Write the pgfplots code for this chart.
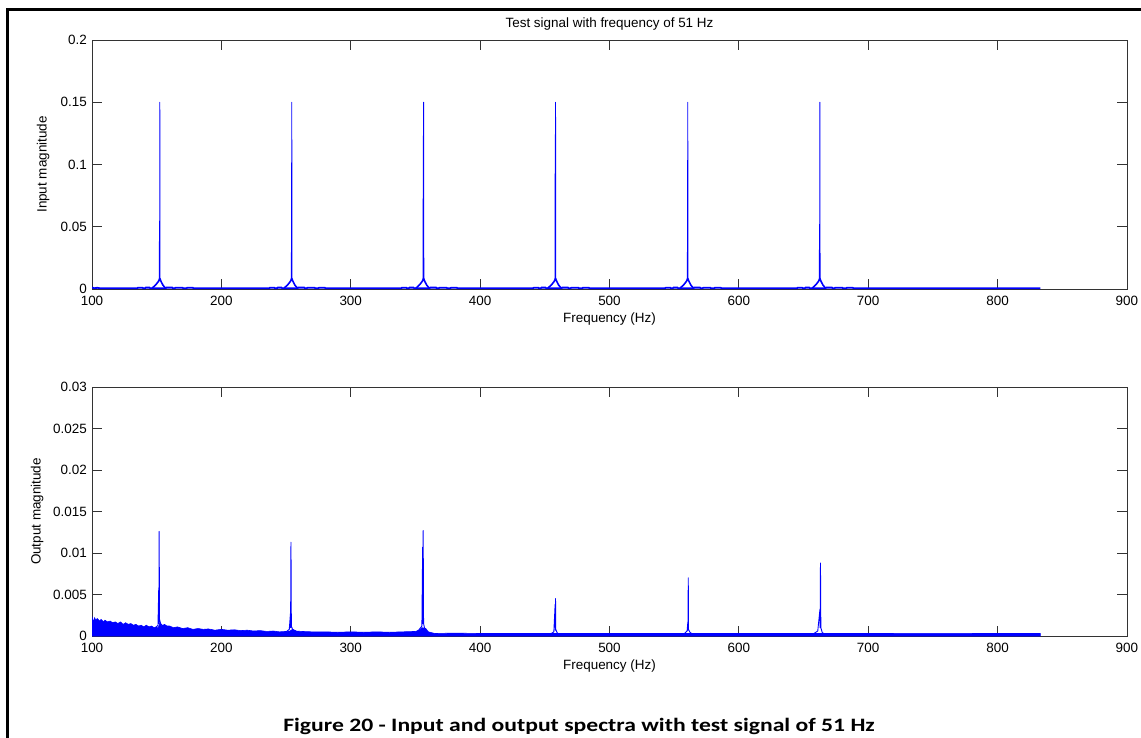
\documentclass[border=0pt]{standalone}
\usepackage{fontspec}
\setmainfont{Liberation Sans}
\newfontfamily\capfont{Carlito}
\usepackage{graphicx}
\usepackage{pgfplots}
\pgfplotsset{compat=1.18}
\definecolor{mblue}{RGB}{0,0,255}
\newcommand{\mfont}{\fontsize{13.5}{15}\selectfont}
\pgfplotsset{
  mstyle/.style={
    width=1035bp, height=249bp, scale only axis,
    xmin=100, xmax=900, xtick={100,200,...,900},
    /pgf/number format/assume math mode=true,
    scaled y ticks=false,
    tick align=inside, major tick length=10bp,
    axis line style={black!80, line width=0.8bp},
    every tick/.style={black!80, line width=0.8bp},
    xticklabel style={font=\mfont, anchor=north, inner sep=0pt, yshift=-7bp},
    yticklabel style={font=\mfont, anchor=east, inner sep=0pt, xshift=-5bp},
    xlabel={Frequency (Hz)},
    xlabel style={font=\mfont, at={(axis description cs:0.5,-0.1205)}, anchor=center, inner sep=0pt},
    unbounded coords=jump,
  }
}
\begin{document}
\begin{tikzpicture}
\path[use as bounding box] (0,0) rectangle (1141bp,-738bp);
\draw[line width=3bp] (7bp,-738bp) -- (7bp,-9bp) -- (1141bp,-9bp);
\node[font=\mfont] at (609.5bp,-24bp) {Test signal with frequency of 51 Hz};

% ---------------- top panel ----------------
\begin{axis}[mstyle, anchor=north west, at={(92bp,-40bp)},
  ymin=0, ymax=0.2, ytick={0,0.05,0.1,0.15,0.2},
  yticklabels={0,0.05,0.1,0.15,0.2},
  ylabel={Input magnitude},
  ylabel style={font=\mfont, at={(axis description cs:-0.0473,0.5)}, anchor=center, inner sep=0pt},
]
% baseline with small raised dashes near the harmonics
\addplot[draw=mblue, line width=1.8bp] coordinates {
(100,0.0012)(102,0.0006)(104,0.0010)(106,0.0006)
(135,0.0006)(135.5,0.0010)(139,0.0010)(139.5,0.0006)(141,0.0006)(141.5,0.0011)(144.5,0.0011)(145,0.0006)
(157,0.0006)(157.5,0.0011)(162,0.0011)(162.5,0.0006)(164,0.0006)(164.5,0.0010)(170,0.0010)(170.5,0.0006)(173,0.0006)(173.5,0.0010)(178,0.0010)(178.5,0.0006)
(237,0.0006)(237.5,0.0010)(241,0.0010)(241.5,0.0006)(243,0.0006)(243.5,0.0011)(246.5,0.0011)(247,0.0006)
(259,0.0006)(259.5,0.0011)(264,0.0011)(264.5,0.0006)(266,0.0006)(266.5,0.0010)(272,0.0010)(272.5,0.0006)(275,0.0006)(275.5,0.0010)(280,0.0010)(280.5,0.0006)
(339,0.0006)(339.5,0.0010)(343,0.0010)(343.5,0.0006)(345,0.0006)(345.5,0.0011)(348.5,0.0011)(349,0.0006)
(361,0.0006)(361.5,0.0011)(366,0.0011)(366.5,0.0006)(368,0.0006)(368.5,0.0010)(374,0.0010)(374.5,0.0006)(377,0.0006)(377.5,0.0010)(382,0.0010)(382.5,0.0006)
(441,0.0006)(441.5,0.0010)(445,0.0010)(445.5,0.0006)(447,0.0006)(447.5,0.0011)(450.5,0.0011)(451,0.0006)
(463,0.0006)(463.5,0.0011)(468,0.0011)(468.5,0.0006)(470,0.0006)(470.5,0.0010)(476,0.0010)(476.5,0.0006)(479,0.0006)(479.5,0.0010)(484,0.0010)(484.5,0.0006)
(543,0.0006)(543.5,0.0010)(547,0.0010)(547.5,0.0006)(549,0.0006)(549.5,0.0011)(552.5,0.0011)(553,0.0006)
(565,0.0006)(565.5,0.0011)(570,0.0011)(570.5,0.0006)(572,0.0006)(572.5,0.0010)(578,0.0010)(578.5,0.0006)(581,0.0006)(581.5,0.0010)(586,0.0010)(586.5,0.0006)
(645,0.0006)(645.5,0.0010)(649,0.0010)(649.5,0.0006)(651,0.0006)(651.5,0.0011)(654.5,0.0011)(655,0.0006)
(667,0.0006)(667.5,0.0011)(672,0.0011)(672.5,0.0006)(674,0.0006)(674.5,0.0010)(680,0.0010)(680.5,0.0006)(683,0.0006)(683.5,0.0010)(688,0.0010)(688.5,0.0006)
(833,0.0006)
};
% skirts
\addplot[draw=mblue, line width=1.6bp, line join=round] coordinates {
(146.4,0.0006)(149.4,0.0035)(151.4,0.0062)(152.4,0.0085)(153.4,0.006)(154.9,0.003)(156.9,0.0006) (nan,nan)
(248.4,0.0006)(251.4,0.0035)(253.4,0.0062)(254.4,0.0085)(255.4,0.006)(256.9,0.003)(258.9,0.0006) (nan,nan)
(350.3,0.0006)(353.3,0.0035)(355.3,0.0062)(356.3,0.0085)(357.3,0.006)(358.8,0.003)(360.8,0.0006) (nan,nan)
(452.3,0.0006)(455.3,0.0035)(457.3,0.0062)(458.3,0.0085)(459.3,0.006)(460.8,0.003)(462.8,0.0006) (nan,nan)
(554.5,0.0006)(557.5,0.0035)(559.5,0.0062)(560.5,0.0085)(561.5,0.006)(563.0,0.003)(565.0,0.0006) (nan,nan)
(656.6,0.0006)(659.6,0.0035)(661.6,0.0062)(662.6,0.0085)(663.6,0.006)(665.1,0.003)(667.1,0.0006)
};
% spectral lines: main bin and adjacent bin
\addplot[draw=mblue, line width=0.9bp, line join=round] coordinates {
(152.0,0.008)(152.2,0.052)(152.3,0.012)(152.4,0.15)(152.6,0.008) (nan,nan)
(254.0,0.008)(254.2,0.033)(254.3,0.012)(254.4,0.15)(254.6,0.008) (nan,nan)
(355.9,0.008)(356.1,0.123)(356.2,0.012)(356.3,0.15)(356.5,0.008) (nan,nan)
(457.9,0.008)(458.1,0.124)(458.2,0.012)(458.3,0.15)(458.5,0.008) (nan,nan)
(560.1,0.008)(560.3,0.033)(560.4,0.012)(560.5,0.15)(560.7,0.008) (nan,nan)
(662.2,0.008)(662.4,0.052)(662.5,0.012)(662.6,0.15)(662.8,0.008)
};
\end{axis}

% ---------------- bottom panel ----------------
\begin{axis}[mstyle, anchor=north west, at={(92bp,-387bp)},
  ymin=0, ymax=0.03, ytick={0,0.005,0.01,0.015,0.02,0.025,0.03},
  yticklabels={0,0.005,0.01,0.015,0.02,0.025,0.03},
  ylabel={Output magnitude},
  ylabel style={font=\mfont, at={(axis description cs:-0.0531,0.5)}, anchor=center, inner sep=0pt},
]
\addplot[draw=mblue, fill=mblue, line width=0.6bp] coordinates {
(100,0.0023)(101,0.0017)(102,0.0022)(103,0.0019)(104,0.0021)(106,0.0018)(107,0.0020)(109,0.0017)(110,0.0019)(112,0.0017)
(114,0.0018)(116,0.0016)(118,0.0017)(120,0.0015)(122,0.0017)(124,0.0014)(126,0.0016)(128,0.0014)(130,0.0015)(132,0.0013)
(134,0.0014)(136,0.0012)(138,0.0013)(140,0.0011)(142,0.0013)(144,0.0011)(146,0.0012)(148,0.0010)(150,0.0011)(151,0.0009)
(152.5,0.0016)(154,0.0012)(156,0.0014)(158,0.0012)(160,0.0012)(163,0.0010)(166,0.0011)(170,0.0009)(174,0.0010)(178,0.0008)
(182,0.0009)(186,0.0008)(190,0.00085)(195,0.0007)(200,0.0008)(205,0.0007)(210,0.00075)(215,0.00065)(220,0.0007)(225,0.0006)
(230,0.00065)(235,0.00055)(240,0.0006)(245,0.0005)(250,0.00055)(253,0.0006)(255,0.0008)(258,0.0006)(262,0.00055)(270,0.0005)
(280,0.0005)(290,0.00045)(300,0.0005)(310,0.00045)(320,0.0005)(330,0.00045)(340,0.0005)(350,0.00055)(353,0.0007)(355,0.0010)
(358,0.0009)(360,0.0005)(365,0.0003)(380,0.00035)(400,0.0003)(450,0.0003)(500,0.0003)(550,0.0003)(600,0.0003)(650,0.0003)
(700,0.0003)(750,0.00032)(800,0.0003)(833,0.0003)(833,0)(100,0)
} -- cycle;
\addplot[draw=mblue, line width=0.9bp, line join=round] coordinates {
(149,0.0010)(151,0.0013)(151.6,0.0058)(151.7,0.0015)(151.9,0.0126)(152.2,0.0020)(153,0.0015)(155,0.0012)
(nan,nan)
(250,0.0005)(252.5,0.0008)(253.4,0.0027)(253.5,0.0010)(253.8,0.0113)(254.1,0.0012)(255,0.0008)(258,0.0005)
(nan,nan)
(351,0.0005)(353,0.0008)(355,0.0012)(355.6,0.0107)(355.7,0.0015)(356,0.0127)(356.3,0.0015)(357,0.0010)(359,0.0005)(361,0.0003)
(nan,nan)
(455,0.0003)(457,0.0005)(458,0.0038)(458.1,0.0007)(458.3,0.0045)(458.5,0.0008)(459.5,0.0004)(461,0.0002)
(nan,nan)
(558,0.0003)(560,0.0006)(560.6,0.0017)(560.7,0.0007)(560.9,0.0070)(561.1,0.0008)(562,0.0005)(564,0.0002)
(nan,nan)
(658,0.0003)(661,0.0006)(662.7,0.0032)(662.8,0.0010)(663.1,0.0088)(663.4,0.0010)(664.5,0.0004)(667,0.0002)
};
\end{axis}

\node[anchor=base, inner sep=0pt] at (579bp,-731bp) {\scalebox{1.25}[1]{\capfont\bfseries\fontsize{19}{22}\selectfont Figure 20 - Input and output spectra with test signal of 51 Hz}};
\end{tikzpicture}
\end{document}
